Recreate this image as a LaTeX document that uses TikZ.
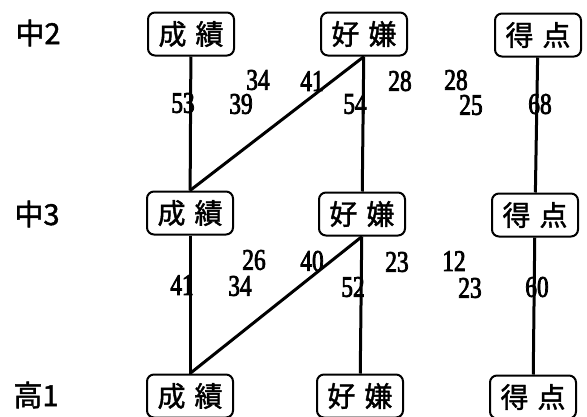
\documentclass[tikz,border=0pt]{standalone}
\usepackage{fontspec}
\newfontfamily\cjk[FakeBold=1.5]{Noto Sans CJK JP}
\newfontfamily\numf[FakeStretch=0.78,FakeBold=2.5]{Liberation Serif}
\begin{document}
\begin{tikzpicture}[x=1pt,y=-1pt,
  box/.style={draw,line width=2pt,rounded corners=7pt,minimum width=86pt,minimum height=43pt,inner sep=2pt,font=\cjk\fontsize{28}{28}\selectfont},
  lvl/.style={font=\cjk\fontsize{29}{29}\selectfont},
  num/.style={inner sep=0pt,font=\numf\fontsize{30}{30}\selectfont},
  link/.style={line width=3pt}]
\useasboundingbox (0,0) rectangle (587,416);
% level labels
\node[lvl] (l1) at (38,33) {中2};
\node[lvl] (l2) at (37,214) {中3};
\node[lvl] (l3) at (36,395) {高1};
% boxes
\node[box] (s1) at (191,34) {成\hspace{9pt}績};
\node[box] (h1) at (364,34) {好\hspace{9pt}嫌};
\node[box] (t1) at (538,35) {得\hspace{9pt}点};
\node[box] (s2) at (190,213) {成\hspace{9pt}績};
\node[box] (h2) at (362,214) {好\hspace{9pt}嫌};
\node[box] (t2) at (535,215) {得\hspace{9pt}点};
\node[box] (s3) at (190,396) {成\hspace{9pt}績};
\node[box] (h3) at (360,396) {好\hspace{9pt}嫌};
\node[box] (t3) at (533,397) {得\hspace{9pt}点};
% connectors
\draw[link] (s1) -- (s2);
\draw[link] (h1) -- (h2);
\draw[link] (t1) -- (t2);
\draw[link] (h1.south) -- (s2.north);
\draw[link] (s2) -- (s3);
\draw[link] (h2) -- (h3);
\draw[link] (t2) -- (t3);
\draw[link] (h2.south) -- (s3.north);
% numbers
\node[num] (n1) at (183,103) {53};
\node[num] (n2) at (258,80) {34};
\node[num] (n3) at (241,104) {39};
\node[num] (n4) at (312,81) {41};
\node[num] (n5) at (355,104) {54};
\node[num] (n6) at (400,81) {28};
\node[num] (n7) at (456,80) {28};
\node[num] (n8) at (471,105) {25};
\node[num] (n9) at (540,104) {68};
\node[num] (m1) at (182,285) {41};
\node[num] (m2) at (254,260) {26};
\node[num] (m3) at (240,286) {34};
\node[num] (m4) at (312,261) {40};
\node[num] (m5) at (353,287) {52};
\node[num] (m6) at (397,262) {23};
\node[num] (m7) at (454,261) {12};
\node[num] (m8) at (470,288) {23};
\node[num] (m9) at (537,287) {60};
\end{tikzpicture}
\end{document}
